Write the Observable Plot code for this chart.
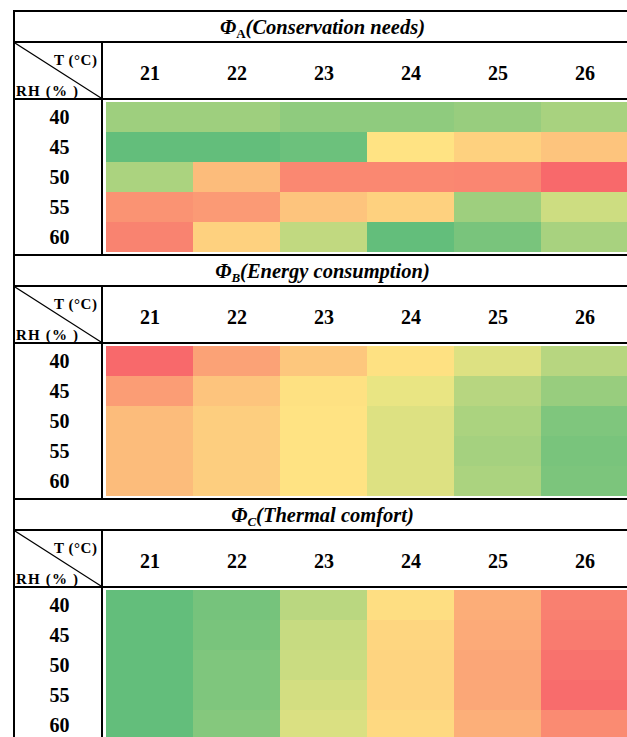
<!DOCTYPE html>
<html>
<head>
<meta charset="utf-8">
<script src="https://cdn.jsdelivr.net/npm/d3@7"></script>
<script src="https://cdn.jsdelivr.net/npm/@observablehq/plot@0.6"></script>
<style>
html, body { margin: 0; padding: 0; overflow: hidden; background: #fff; }
#table { position: absolute; left: 13px; top: 10px; width: 617px; }
.panel { border-top: 2px solid #000; border-left: 2px solid #000; }
.title { height: 25px; padding-top: 4px; line-height: 25px; border-bottom: 2px solid #000; text-align: center;
  font: italic bold 20.5px "Liberation Serif", "Times New Roman", serif; white-space: nowrap; }
.title .sub { font-size: 13px; position: relative; top: 4px; }
.title .sub.up { font-style: normal; }
.panel svg { display: block; }
</style>
</head>
<body>
<div id="table"></div>
<script>
// Column (temperature) and row (relative humidity) labels
const temps = [21, 22, 23, 24, 25, 26];
const rhLevels = [40, 45, 50, 55, 60];
const tLabel = "T (°C)";
const rhLabel = "RH (% )";

// Panel titles
const titleMain = "Φ";
const titleSubs = ["A", "B", "C"];
const titleTexts = ["(Conservation needs)", "(Energy consumption)", "(Thermal comfort)"];

// Normalised scores (0 = worst/red, 0.5 = yellow, 1 = best/green), rows = RH, cols = T
const phiA = [
  [0.81, 0.81, 0.86, 0.86, 0.83, 0.78],
  [1.00, 1.00, 0.97, 0.47, 0.40, 0.35],
  [0.77, 0.32, 0.12, 0.12, 0.11, 0.00],
  [0.16, 0.19, 0.35, 0.40, 0.81, 0.66],
  [0.10, 0.40, 0.70, 1.00, 0.93, 0.78]
];
const phiB = [
  [0.00, 0.22, 0.36, 0.46, 0.61, 0.73],
  [0.20, 0.35, 0.46, 0.57, 0.73, 0.83],
  [0.32, 0.39, 0.47, 0.61, 0.77, 0.91],
  [0.32, 0.39, 0.47, 0.61, 0.79, 0.93],
  [0.32, 0.39, 0.47, 0.61, 0.77, 0.92]
];
const phiC = [
  [1.00, 0.94, 0.72, 0.45, 0.26, 0.09],
  [1.00, 0.93, 0.68, 0.42, 0.25, 0.07],
  [1.00, 0.91, 0.67, 0.41, 0.235, 0.035],
  [1.00, 0.91, 0.64, 0.41, 0.24, 0.01],
  [1.00, 0.89, 0.62, 0.43, 0.27, 0.13]
];
const colorStops = ["#F8696B", "#FFEB84", "#63BE7B"];

const FONT = '"Liberation Serif", "Times New Roman", serif';

function headerStructure(index, scales, values, dims) {
  const L = dims.marginLeft, T = dims.marginTop, W = dims.width, H = dims.height;
  const g = d3.create("svg:g");
  g.append("line").attr("x1", 0).attr("x2", W).attr("y1", T - 1).attr("y2", T - 1)
    .attr("stroke", "#000").attr("stroke-width", 2);
  g.append("line").attr("x1", L - 1).attr("x2", L - 1).attr("y1", 0).attr("y2", H)
    .attr("stroke", "#000").attr("stroke-width", 2);
  g.append("line").attr("x1", 0).attr("y1", 0).attr("x2", L - 2).attr("y2", T - 2)
    .attr("stroke", "#000").attr("stroke-width", 1.2);
  g.append("text").attr("x", L - 6).attr("y", 22).attr("text-anchor", "end")
    .attr("font-family", FONT).attr("font-weight", "bold").attr("font-size", 15)
    .attr("textLength", 43).attr("lengthAdjust", "spacing").text(tLabel);
  g.append("text").attr("x", 1).attr("y", 53).attr("text-anchor", "start")
    .attr("font-family", FONT).attr("font-weight", "bold").attr("font-size", 15)
    .attr("textLength", 62).attr("lengthAdjust", "spacing").text(rhLabel);
  return g.node();
}

function panel(matrix, i) {
  const data = rhLevels.flatMap((rh, r) => temps.map((t, c) => ({T: t, RH: rh, v: matrix[r][c]})));
  const div = document.createElement("div");
  div.className = "panel";
  const title = document.createElement("div");
  title.className = "title";
  title.innerHTML = titleMain + '<span class="sub' + (i === 0 ? ' up' : '') + '">' + titleSubs[i] + "</span>" + titleTexts[i];
  div.appendChild(title);
  const chart = Plot.plot({
    width: 615,
    height: 211,
    marginLeft: 88,
    marginTop: 57,
    marginRight: 0,
    marginBottom: 0,
    style: {background: "#fff", fontFamily: FONT},
    x: {type: "band", domain: temps, padding: 0, axis: null},
    y: {type: "band", domain: rhLevels, padding: 0, axis: null},
    color: {type: "linear", domain: [0, 0.5, 1], range: colorStops, interpolate: "rgb"},
    marks: [
      Plot.cell(data, {x: "T", y: "RH", fill: "v", inset: 0}),
      Plot.text(temps, {x: d => d, frameAnchor: "top", dy: -26.5, lineAnchor: "middle",
        fontSize: 20, fontWeight: "bold", fill: "#000"}),
      Plot.text(rhLevels, {y: d => d, frameAnchor: "left", dx: -44, textAnchor: "middle",
        lineAnchor: "middle", fontSize: 20, fontWeight: "bold", fill: "#000"}),
      headerStructure
    ]
  });
  div.appendChild(chart);
  return div;
}

const table = document.getElementById("table");
[phiA, phiB, phiC].forEach((m, i) => table.appendChild(panel(m, i)));
</script>
</body>
</html>
